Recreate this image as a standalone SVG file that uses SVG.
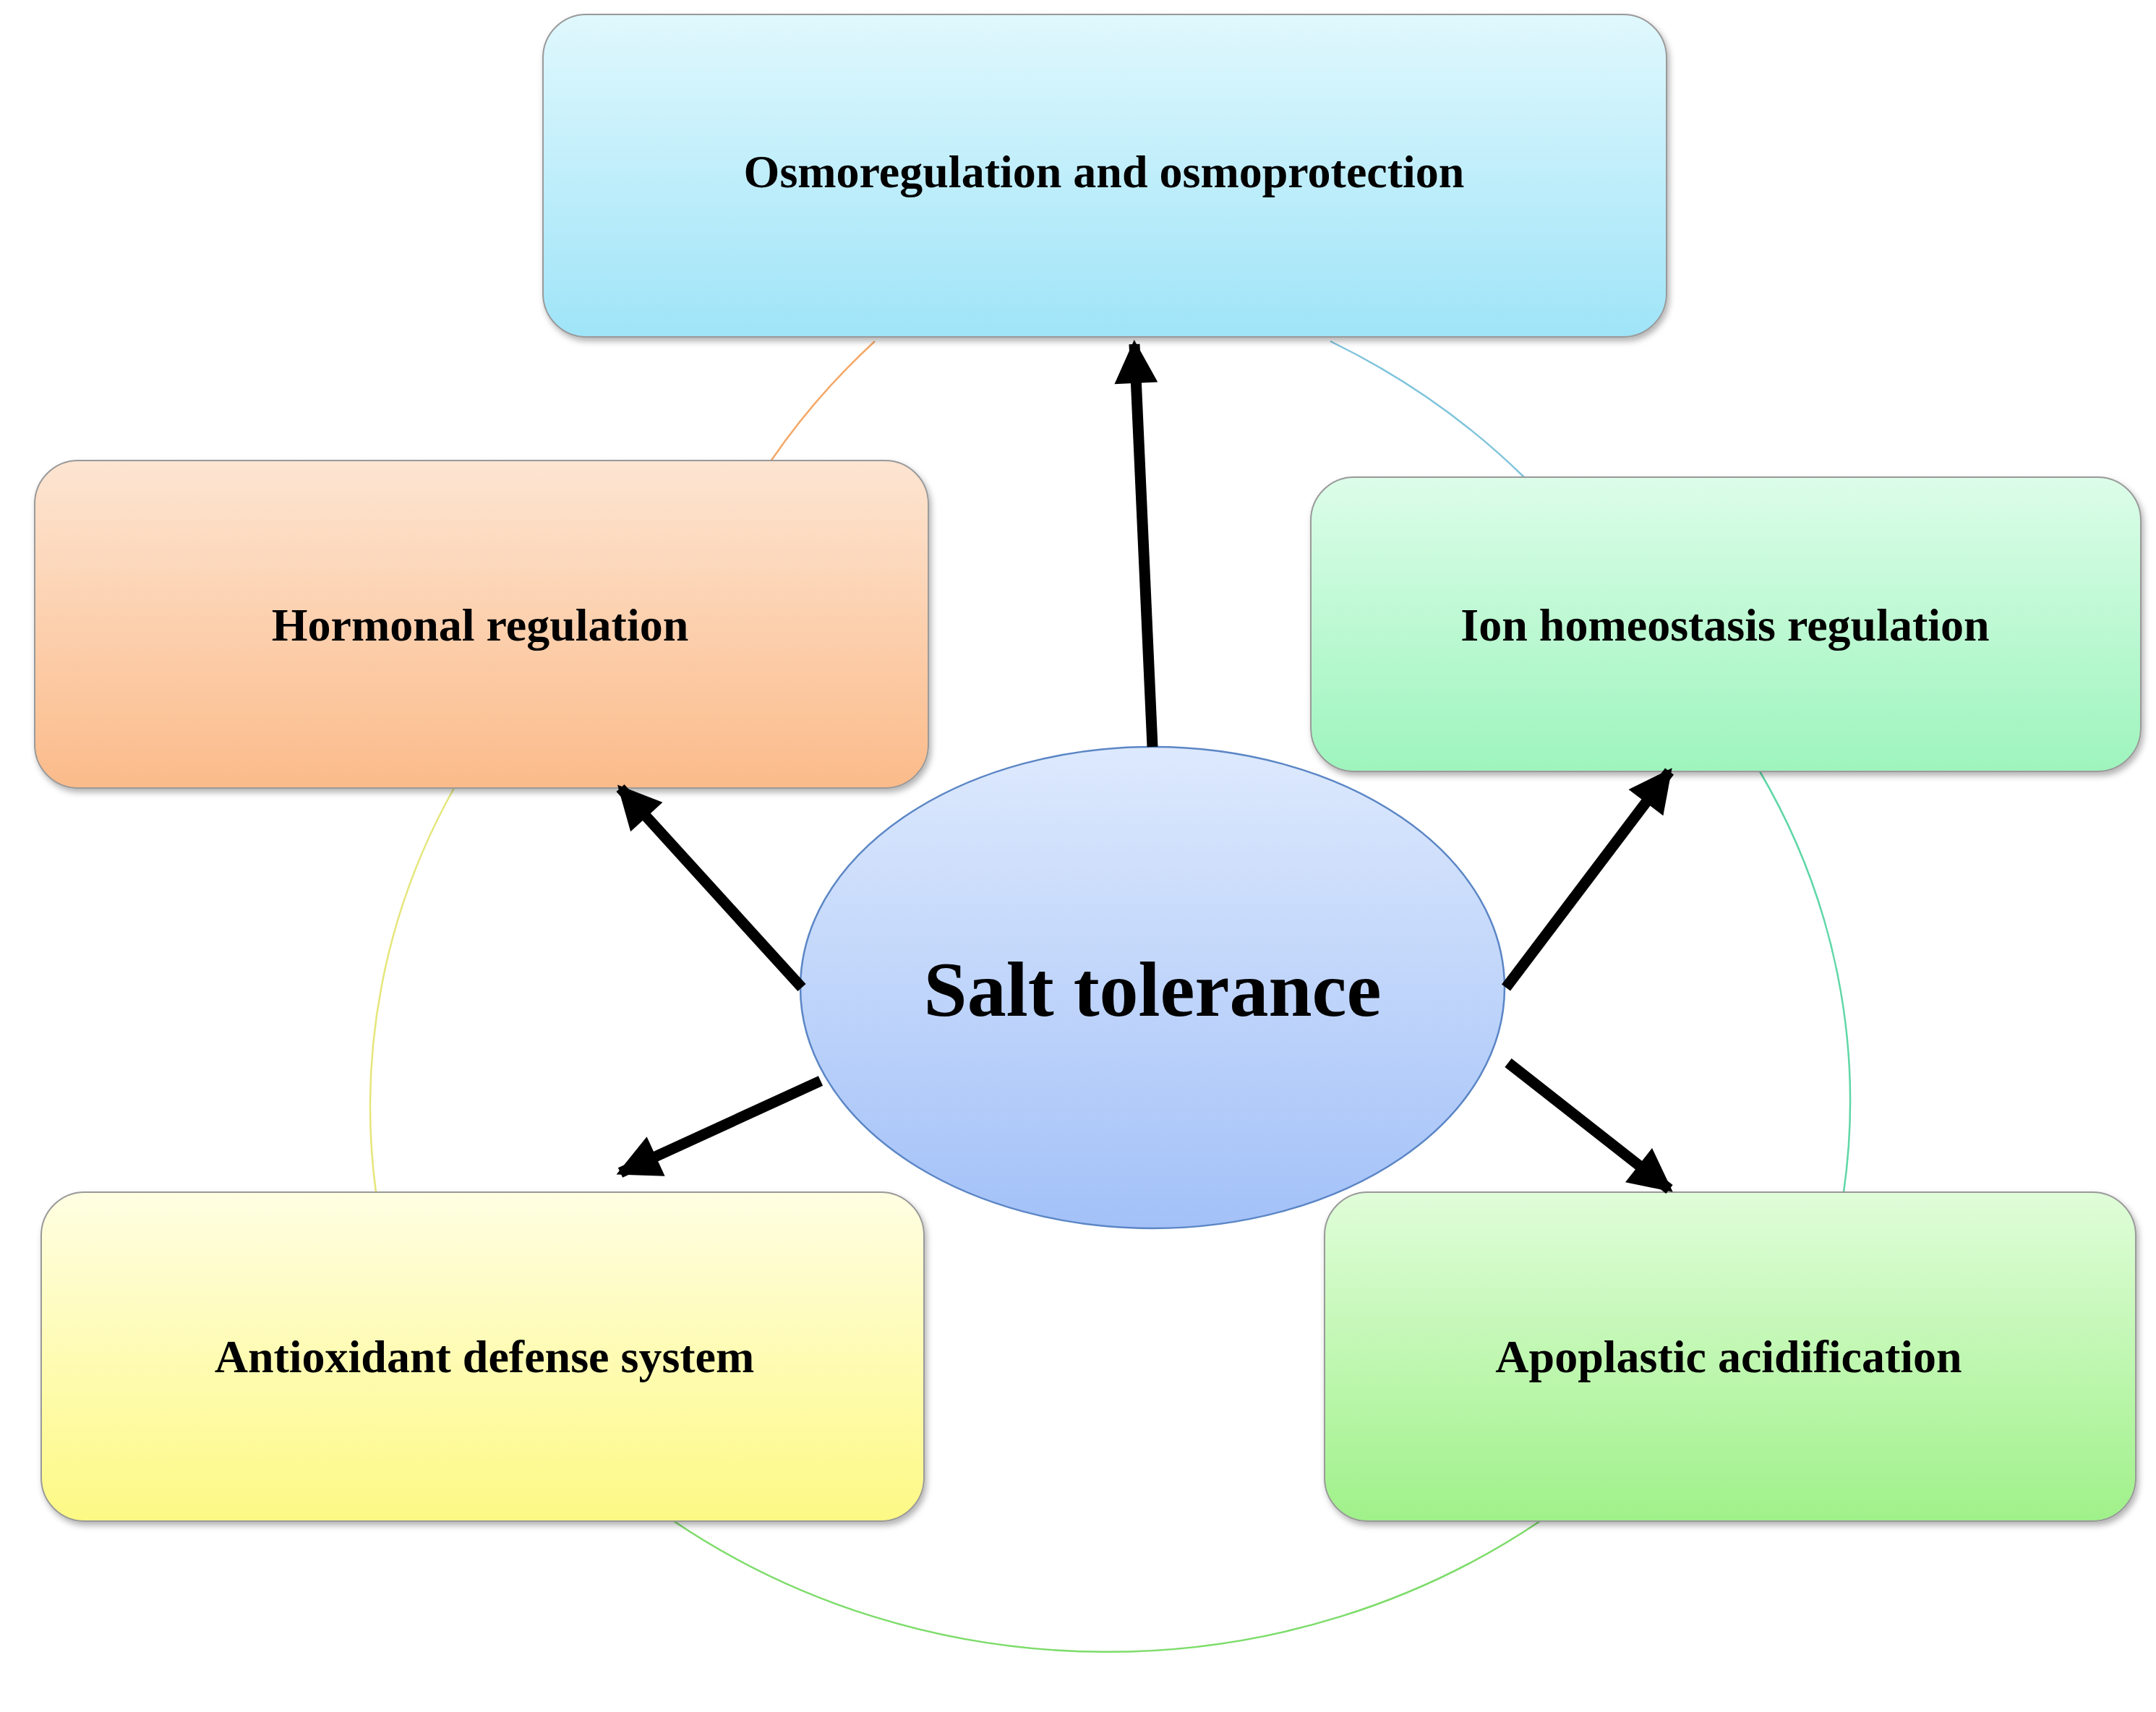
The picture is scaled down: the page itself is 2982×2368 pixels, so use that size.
<svg xmlns="http://www.w3.org/2000/svg" width="2982" height="2368" viewBox="0 0 2982 2368">
<defs>
<linearGradient id="gTop" x1="0" y1="0" x2="0" y2="1"><stop offset="0" stop-color="#e0f8fd"/><stop offset="1" stop-color="#9fe4f8"/></linearGradient>
<linearGradient id="gHor" x1="0" y1="0" x2="0" y2="1"><stop offset="0" stop-color="#fde5d2"/><stop offset="1" stop-color="#fbbb8a"/></linearGradient>
<linearGradient id="gIon" x1="0" y1="0" x2="0" y2="1"><stop offset="0" stop-color="#dcfde9"/><stop offset="1" stop-color="#9ef4bd"/></linearGradient>
<linearGradient id="gAnt" x1="0" y1="0" x2="0" y2="1"><stop offset="0" stop-color="#fffee2"/><stop offset="1" stop-color="#fdf985"/></linearGradient>
<linearGradient id="gApo" x1="0" y1="0" x2="0" y2="1"><stop offset="0" stop-color="#e0fdd9"/><stop offset="1" stop-color="#a0f18a"/></linearGradient>
<linearGradient id="gEl" x1="0" y1="0" x2="0" y2="1"><stop offset="0" stop-color="#dde9fd"/><stop offset="1" stop-color="#a3c1f8"/></linearGradient>
<filter id="sh" x="-5%" y="-5%" width="110%" height="115%"><feDropShadow dx="3" dy="5" stdDeviation="4" flood-color="#000" flood-opacity="0.3"/></filter>
<marker id="ah" viewBox="0 0 10 10" refX="9" refY="5" markerWidth="4.2" markerHeight="4" orient="auto" markerUnits="strokeWidth"><path d="M0,0 L10,5 L0,10 z" fill="#000"/></marker>
</defs>
<style>
.box{stroke:#9a9a9a;stroke-width:2;filter:url(#sh)}
.t{font-family:"Liberation Serif",serif;font-weight:bold;text-anchor:middle;fill:#000}
.a{stroke:#000;stroke-width:15;fill:none;marker-end:url(#ah)}
.ring{fill:none;stroke-width:2.5}
</style>
<rect width="2982" height="2368" fill="#fff"/>
<g id="ring">
<path class="ring" stroke="#f4a866" d="M 990 772 A 1021 951 0 0 1 1210 472"/>
<path class="ring" stroke="#7fc4dc" d="M 1840 472 A 1021 951 0 0 1 2108 660"/>
<path class="ring" stroke="#5fd7a6" d="M 2434 1067 A 1021 951 0 0 1 2550 1649"/>
<path class="ring" stroke="#7ddc6a" d="M 2130 2104 A 1021 951 0 0 1 932 2104"/>
<path class="ring" stroke="#e5e67a" d="M 520 1649 A 1021 951 0 0 1 628 1090"/>
</g>
<g id="osmo"><rect class="box" x="751" y="20" width="1554" height="446" rx="60" fill="url(#gTop)"/><text class="t" x="1527" y="259" font-size="64">Osmoregulation and osmoprotection</text></g>
<g id="hormonal"><rect class="box" x="48" y="637" width="1236" height="453" rx="60" fill="url(#gHor)"/><text class="t" x="664" y="886" font-size="64">Hormonal regulation</text></g>
<g id="ion"><rect class="box" x="1813" y="660" width="1148" height="407" rx="60" fill="url(#gIon)"/><text class="t" x="2386" y="886" font-size="64">Ion homeostasis regulation</text></g>
<g id="antioxidant"><rect class="box" x="57" y="1649" width="1221" height="455" rx="60" fill="url(#gAnt)"/><text class="t" x="670" y="1898" font-size="64">Antioxidant defense system</text></g>
<g id="apoplastic"><rect class="box" x="1832" y="1649" width="1122" height="455" rx="60" fill="url(#gApo)"/><text class="t" x="2391" y="1898" font-size="64">Apoplastic acidification</text></g>
<g id="salt"><ellipse cx="1594" cy="1366" rx="487" ry="333" fill="url(#gEl)" stroke="#5b86c5" stroke-width="2.5"/><text class="t" x="1594" y="1405" font-size="108">Salt tolerance</text></g>
<g id="connectors">
<line class="a" x1="1594" y1="1033" x2="1569" y2="476"/>
<line class="a" x1="1109" y1="1366" x2="858" y2="1090"/>
<line class="a" x1="2083" y1="1366" x2="2309" y2="1067"/>
<line class="a" x1="1135" y1="1495" x2="858" y2="1622"/>
<line class="a" x1="2086" y1="1470" x2="2309" y2="1645"/>
</g>
</svg>
